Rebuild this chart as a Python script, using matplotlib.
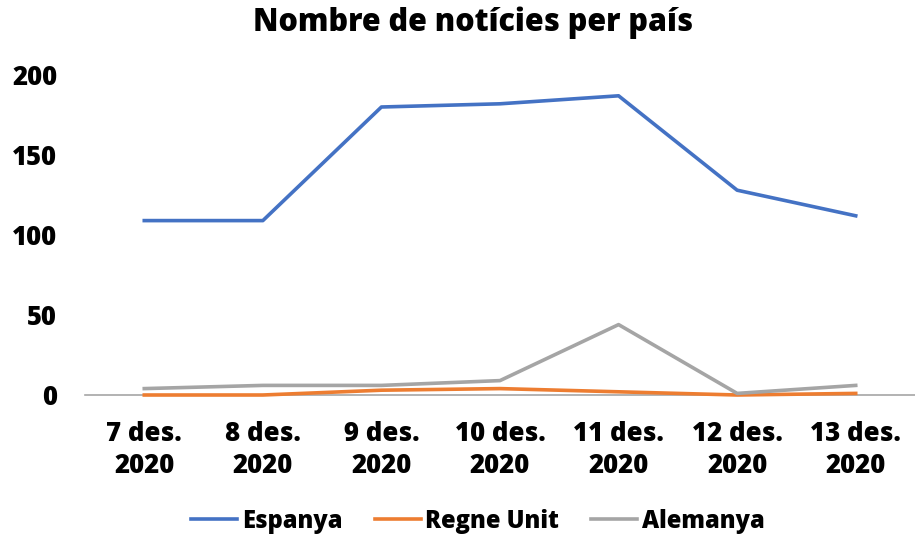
import matplotlib
matplotlib.use("Agg")
import matplotlib.pyplot as plt

categories = ["7 des.\n2020", "8 des.\n2020", "9 des.\n2020", "10 des.\n2020",
              "11 des.\n2020", "12 des.\n2020", "13 des.\n2020"]
espanya = [109, 109, 180, 182, 187, 128, 112]
regne_unit = [0, 0, 3, 4, 2, 0, 1]
alemanya = [4, 6, 6, 9, 44, 1, 6]
yticks = [0, 50, 100, 150, 200]

plt.rcParams['font.family'] = ['Open Sans', 'DejaVu Sans']
plt.rcParams['font.weight'] = 'heavy'
WEIGHT = 'heavy'

W, H = 915, 537
fig = plt.figure(figsize=(W / 100, H / 100), dpi=100)
ax = fig.add_axes([85 / W, 1 - 395 / H, (915 - 85) / W, (395 - 75) / H])

x = list(range(len(categories)))
ax.plot(x, espanya, color='#4472C4', lw=2.6, label='Espanya', clip_on=False, solid_joinstyle='round')
ax.plot(x, regne_unit, color='#ED7D31', lw=2.6, label='Regne Unit', clip_on=False, solid_joinstyle='round')
ax.plot(x, alemanya, color='#A5A5A5', lw=2.6, label='Alemanya', clip_on=False, solid_joinstyle='round')

ax.set_xlim(-0.5, len(categories) - 0.5)
ax.set_ylim(0, 200)
ax.set_yticks(yticks)
ax.set_yticklabels([str(v) for v in yticks], fontsize=18.5, fontweight=WEIGHT)
ax.set_xticks(x)
ax.set_xticklabels(categories, fontsize=18.5, fontweight=WEIGHT, linespacing=1.3)
ax.tick_params(axis='both', length=0)
ax.tick_params(axis='y', pad=20)
ax.tick_params(axis='x', pad=19)
for s in ['top', 'right', 'left']:
    ax.spines[s].set_visible(False)
ax.spines['bottom'].set_color('#A6A6A6')
ax.spines['bottom'].set_linewidth(1.2)
ax.spines['bottom'].set_zorder(0)

fig.text(473 / W, 1 - 23 / H, 'Nombre de notícies per país', ha='center', va='center',
         fontsize=22, fontweight=WEIGHT)

fig.legend(loc='center', bbox_to_anchor=(478 / W, 1 - 521 / H), ncol=3, frameon=False,
           handlelength=1.95, handletextpad=0.2, columnspacing=1.35,
           prop={'weight': WEIGHT, 'size': 17})

fig.savefig('out.png', dpi=100)
